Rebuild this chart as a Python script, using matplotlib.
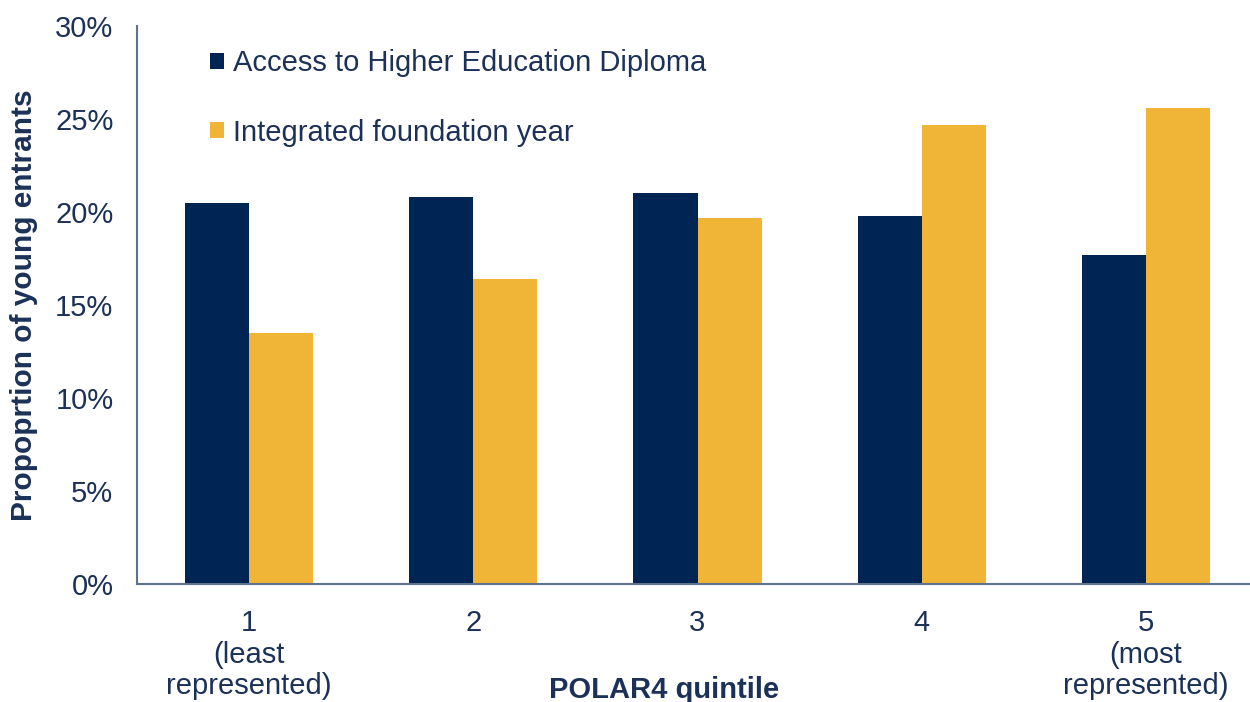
import numpy as np
import matplotlib.pyplot as plt

# POLAR4 quintiles and proportion of young entrants (%)
quintiles = ["1\n(least\nrepresented)", "2", "3", "4", "5\n(most\nrepresented)"]
access_diploma = [20.5, 20.8, 21.0, 19.8, 17.7]
foundation_year = [13.5, 16.4, 19.7, 24.7, 25.6]

navy = "#002554"
gold = "#F0B537"
text_col = "#1B3158"
axis_col = "#5F7391"

plt.rcParams['font.family'] = ['Liberation Sans', 'DejaVu Sans']

fig = plt.figure(figsize=(12.5, 7.02), dpi=100)
ax = fig.add_axes([137/1250, 1 - 584/702, (1258 - 137)/1250, (584 - 26)/702])

x = np.arange(len(quintiles))
w = 0.286
ax.bar(x - w/2, access_diploma, w, color=navy, label="Access to Higher Education Diploma")
ax.bar(x + w/2, foundation_year, w, color=gold, label="Integrated foundation year")

ax.set_xlim(-0.5, 4.5)
ax.set_ylim(0, 30)
ax.set_yticks(np.arange(0, 31, 5))
ax.set_yticklabels([f"{v}%" for v in range(0, 31, 5)])
ax.set_xticks(x)
ax.set_xticklabels(quintiles, linespacing=1.17)

ax.tick_params(axis='both', length=0, labelsize=21, colors=text_col)
ax.tick_params(axis='y', pad=17)
ax.tick_params(axis='x', pad=18)

for s in ["top", "right"]:
    ax.spines[s].set_visible(False)
for s in ["left", "bottom"]:
    ax.spines[s].set_color(axis_col)
    ax.spines[s].set_linewidth(1.5)

ax.set_ylabel("Propoprtion of young entrants", fontsize=21.5, fontweight='bold', color=text_col)
ax.yaxis.set_label_coords(-0.0885, 0.5)
ax.set_xlabel("POLAR4 quintile", fontsize=21, fontweight='bold', color=text_col)
ax.xaxis.set_label_coords(0.47, -0.165)

leg = ax.legend(loc="upper left", bbox_to_anchor=(0.042, 1.005), frameon=False,
                fontsize=21, labelspacing=1.41, handlelength=0.48, handleheight=0.48,
                handletextpad=0.3)
for t in leg.get_texts():
    t.set_color(text_col)

fig.savefig("out.png", dpi=100)
